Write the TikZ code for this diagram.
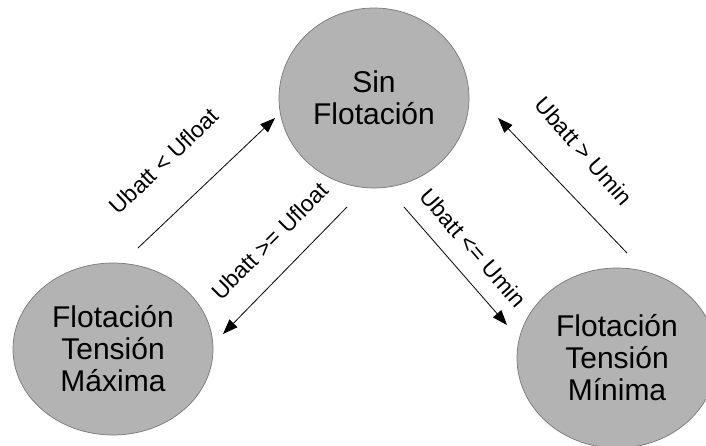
\documentclass[tikz,border=0pt]{standalone}
\usepackage{fontspec}
\setmainfont{Liberation Sans}
\usetikzlibrary{shapes.geometric,arrows.meta}
\definecolor{statefill}{RGB}{179,179,179}
\definecolor{stateline}{RGB}{120,120,120}
\begin{document}
\begin{tikzpicture}[x=1pt,y=-1pt,
  state/.style={ellipse,draw=stateline,fill=statefill,line width=0.7pt,inner sep=0pt,align=center,font=\fontsize{30}{32}\selectfont},
  trans/.style={draw=black,line width=0.8pt,-{Triangle[length=15pt,width=11pt]}},
  lbl/.style={font=\fontsize{23}{25}\selectfont,inner sep=0pt}]
\useasboundingbox (0,0) rectangle (706,445);
\clip (0,0) rectangle (706,445);
\fill[white] (0,0) rectangle (706,445);
\node[state,minimum width=190pt,minimum height=180pt] (sin) at (374,98) {Sin\\Flotación};
\node[state,minimum width=200pt,minimum height=172pt] (max) at (113,349) {Flotación\\Tensión\\Máxima};
\node[state,minimum width=200pt,minimum height=180pt] (min) at (617,358) {Flotación\\Tensión\\Mínima};
\coordinate (a1s) at (138,248); \coordinate (a1e) at (275,118);
\coordinate (a2s) at (347,207); \coordinate (a2e) at (223,334);
\coordinate (a3s) at (404,207); \coordinate (a3e) at (507,325);
\coordinate (a4s) at (627,253); \coordinate (a4e) at (498,118);
\draw[trans] (a1s) -- (a1e);
\draw[trans] (a2s) -- (a2e);
\draw[trans] (a3s) -- (a3e);
\draw[trans] (a4s) -- (a4e);
\node[lbl,rotate=44] (l1) at (164,161) {Ubatt < Ufloat};
\node[lbl,rotate=45] (l2) at (270,241) {Ubatt >= Ufloat};
\node[lbl,rotate=-49] (l3) at (473,248) {Ubatt <= Umin};
\node[lbl,rotate=-49] (l4) at (584,151) {Ubatt > Umin};
\end{tikzpicture}
\end{document}
